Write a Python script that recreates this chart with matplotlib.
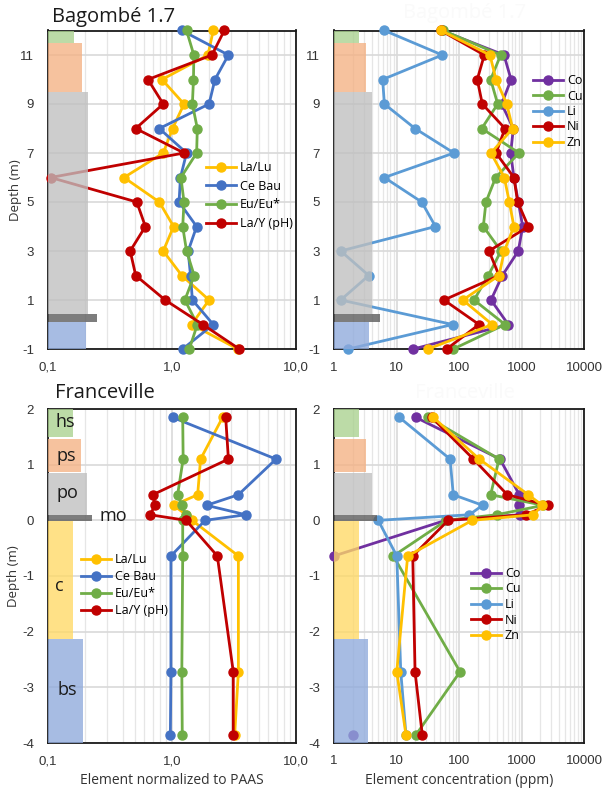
import matplotlib
matplotlib.use('Agg')
import matplotlib.pyplot as plt
import numpy as np
from matplotlib.ticker import FixedLocator, LogLocator, NullFormatter, FixedFormatter

# ---------------- data ----------------
bag_depth = [12, 11, 10, 9, 8, 7, 6, 5, 4, 3, 2, 1, 0, -1]
bag_lalu  = [2.15, 1.95, 0.83, 1.25, 1.01, 0.85, 0.41, 0.79, 1.03, 0.85, 1.2, 1.99, 1.44, 3.39]
bag_cebau = [1.2, 2.85, 2.22, 1.99, 0.79, 1.31, 1.17, 1.14, 1.58, 1.35, 1.41, 1.46, 2.15, 1.22]
bag_eueu  = [1.31, 1.5, 1.49, 1.46, 1.6, 1.58, 1.18, 1.25, 1.22, 1.31, 1.51, 1.27, 1.6, 1.38]
bag_lay   = [2.64, 2.1, 0.64, 0.85, 0.51, 1.25, 0.105, 0.52, 0.61, 0.46, 0.51, 0.88, 1.77, 3.49]

bag_co = [52.8, 525, 680, 482, 740, 671, 756, 889, 1045, 889, 493, 325, 615, 18.6]
bag_cu = [56, 464, 321, 416, 231, 912, 386, 270, 245, 470, 294, 174, 545, 81]
bag_li = [6.4, 54, 6.0, 6.4, 19.8, 83, 6.4, 25.3, 42, 1.28, 3.6, 1.28, 79, 1.7]
bag_ni = [51, 254, 196, 236, 545, 391, 756, 869, 1285, 302, 437, 57.5, 209, 63.5]
bag_zn = [51.5, 313, 391, 580, 723, 325, 531, 638, 756, 531, 437, 115, 341, 32]

fr_depth = [1.85, 1.1, 0.46, 0.27, 0.1, 0.0, -0.64, -2.72, -3.86]
fr_lalu  = [2.56, 1.70, 1.61, 1.03, 1.3, 1.45, 3.43, 3.43, 3.2]
fr_cebau = [1.01, 6.9, 3.43, 1.9, 3.93, 1.85, 0.98, 0.98, 0.97]
fr_eueu  = [1.22, 1.23, 1.11, 1.2, 1.29, 1.22, 1.22, 1.2, 1.21]
fr_lay   = [2.71, 2.85, 0.70, 0.73, 0.665, 1.3, 2.32, 3.12, 3.12]

fr_co = [20.3, 453, 923, 923, 940, 61, 1.0, np.nan, 2.0]
fr_cu = [32, 437, 321, 2234, 400, 63, 8.9, 104, 20.3]
fr_li = [11.1, 72, 81, 239, 146, 5.1, 10.1, 11.7, 14.2]
fr_ni = [36.6, 170, 593, 2627, 1180, 67, 18.2, 19.8, 25.9]
fr_zn = [38.8, 211, 1285, 2150, 1545, 163, 15.1, 10.1, 14.2]

ratio_labels = ['La/Lu', 'Ce Bau', 'Eu/Eu*', 'La/Y (pH)']
elem_labels = ['Co', 'Cu', 'Li', 'Ni', 'Zn']

# lithology columns
bag_lith_top    = [12.0, 11.47, 9.47, 0.43, 0.11]
bag_lith_bottom = [11.5, 9.5, 0.43, 0.11, -1.0]
bag_lith_wl     = [0.162, 0.188, 0.21, 0.248, 0.202]
bag_lith_wr     = [2.5, 3.25, 4.06, 5.4, 3.6]
bag_lith_col    = ['#a9d18e', '#f4b183', '#bfbfbf', '#595959', '#8faadc']

fr_lith_top    = [2.0, 1.47, 0.85, 0.095, -0.013, -2.14]
fr_lith_bottom = [1.49, 0.86, 0.095, -0.013, -2.13, -4.0]
fr_lith_wl     = [0.159, 0.185, 0.206, 0.226, 0.159, 0.19]
fr_lith_wr     = [2.5, 3.25, 4.0, 4.9, 2.5, 3.5]
fr_lith_col    = ['#a9d18e', '#f4b183', '#bfbfbf', '#595959', '#ffd966', '#8faadc']
fr_lith_names  = ['hs', 'ps', 'po', 'mo', 'c', 'bs']
fr_lith_name_y = [1.76, 1.16, 0.5, 0.07, -1.18, -3.04]
fr_lith_name_x = [0.115, 0.117, 0.117, 0.262, 0.113, 0.12]

ratio_colors = ['#ffc000', '#4472c4', '#70ad47', '#c00000']
elem_colors = ['#7030a0', '#70ad47', '#5b9bd5', '#c00000', '#ffc000']

TICKFONT = 'Liberation Sans'
TXTFONT = 'Open Sans'

fig = plt.figure(figsize=(6.05, 7.89), dpi=100)
W, H = 605.0, 789.0

def ax_at(x0, y0, x1, y1):
    return fig.add_axes([x0 / W, 1 - y1 / H, (x1 - x0) / W, (y1 - y0) / H])

ax_tl = ax_at(48, 30.5, 296, 349)
ax_tr = ax_at(334, 30.5, 584, 349)
ax_bl = ax_at(48, 409, 296, 743)
ax_br = ax_at(334, 409, 584, 743)

def style(ax, xlim, ylim, yticks, xtick_vals, xtick_labels):
    ax.set_xscale('log')
    ax.set_xlim(*xlim)
    ax.set_ylim(*ylim)
    ax.set_yticks(yticks)
    ax.set_yticklabels([str(t) for t in yticks])
    ax.xaxis.set_major_locator(FixedLocator(xtick_vals))
    ax.xaxis.set_major_formatter(FixedFormatter(xtick_labels))
    ax.xaxis.set_minor_locator(LogLocator(base=10, subs=np.arange(2, 10)))
    ax.xaxis.set_minor_formatter(NullFormatter())
    ax.grid(True, which='major', axis='both', color='#d9d9d9', lw=1.2, zorder=0)
    ax.grid(True, which='minor', axis='x', color='#e6e6e6', lw=0.9, zorder=0)
    ax.set_axisbelow(True)
    ax.tick_params(which='both', length=0)
    ax.tick_params(axis='y', pad=10, labelsize=9.5, labelcolor='#333333')
    ax.tick_params(axis='x', pad=9, labelsize=9.5, labelcolor='#333333')
    for lab in ax.get_xticklabels() + ax.get_yticklabels():
        lab.set_fontfamily(TICKFONT)
    for s in ax.spines.values():
        s.set_color('#1a1a1a')
        s.set_linewidth(1.3)

def lith(ax, tops, bots, widths, cols, xmin):
    for t, b, w, c in zip(tops, bots, widths, cols):
        ax.fill_betweenx([b, t], xmin, w, color=c, alpha=0.78, lw=0, zorder=5)

def series(ax, depth, values, labels, colors):
    for vals, lab, c in zip(values, labels, colors):
        v = np.array(vals, dtype=float)
        d = np.array(depth, dtype=float)
        ax.plot(v, d, '-o', color=c, lw=2.0, ms=6.5, label=lab, clip_on=False, zorder=3)

left_ticks = [0.1, 1, 10]
left_labels = ['0,1', '1,0', '10,0']
right_ticks = [1, 10, 100, 1000, 10000]
right_labels = ['1', '10', '100', '1000', '10000']

style(ax_tl, (0.1, 10), (-1, 12), [-1, 1, 3, 5, 7, 9, 11], left_ticks, left_labels)
style(ax_tr, (1, 10000), (-1, 12), [-1, 1, 3, 5, 7, 9, 11], right_ticks, right_labels)
style(ax_bl, (0.1, 10), (-4, 2), [-4, -3, -2, -1, 0, 1, 2], left_ticks, left_labels)
style(ax_br, (1, 10000), (-4, 2), [-4, -3, -2, -1, 0, 1, 2], right_ticks, right_labels)

lith(ax_tl, bag_lith_top, bag_lith_bottom, bag_lith_wl, bag_lith_col, 0.1)
lith(ax_tr, bag_lith_top, bag_lith_bottom, bag_lith_wr, bag_lith_col, 1)
lith(ax_bl, fr_lith_top, fr_lith_bottom, fr_lith_wl, fr_lith_col, 0.1)
lith(ax_br, fr_lith_top, fr_lith_bottom, fr_lith_wr, fr_lith_col, 1)

series(ax_tl, bag_depth, [bag_lalu, bag_cebau, bag_eueu, bag_lay], ratio_labels, ratio_colors)
series(ax_tr, bag_depth, [bag_co, bag_cu, bag_li, bag_ni, bag_zn], elem_labels, elem_colors)
series(ax_bl, fr_depth, [fr_lalu, fr_cebau, fr_eueu, fr_lay], ratio_labels, ratio_colors)
series(ax_br, fr_depth, [fr_co, fr_cu, fr_li, fr_ni, fr_zn], elem_labels, elem_colors)

for name, x, y in zip(fr_lith_names, fr_lith_name_x, fr_lith_name_y):
    ax_bl.text(x, y, name, fontsize=13, family=TXTFONT, color='#1a1a1a',
               ha='left', va='center', zorder=6)

leg_kw = dict(frameon=False, handlelength=2.4, handletextpad=0.3, borderaxespad=0,
              prop={'family': TXTFONT, 'size': 9})
l1 = ax_tl.legend(loc='upper left', bbox_to_anchor=(153 / 248, 1 - (156 - 30.5) / 318.5),
                  labelspacing=0.45, **leg_kw)
l2 = ax_tr.legend(loc='upper left', bbox_to_anchor=(194 / 250, 1 - (69 - 30.5) / 318.5),
                  labelspacing=0.2, **leg_kw)
l3 = ax_bl.legend(loc='upper left', bbox_to_anchor=(28 / 248, 1 - (548 - 409) / 334),
                  labelspacing=0.32, **leg_kw)
l4 = ax_br.legend(loc='upper left', bbox_to_anchor=(132 / 250, 1 - (562 - 409) / 334),
                  labelspacing=0.2, **leg_kw)
for l in (l1, l2, l3, l4):
    l.set_zorder(7)

# titles
fig.text(52 / W, 1 - 17 / H, 'Bagombé 1.7', fontsize=14.5, family=TXTFONT, color='#1a1a1a',
         ha='left', va='center')
fig.text(465 / W, 1 - 13 / H, 'Bagombé 1.7', fontsize=14.5, family=TXTFONT, color='#fafafa',
         ha='center', va='center')
fig.text(55 / W, 1 - 393 / H, 'Franceville', fontsize=14.5, family=TXTFONT, color='#1a1a1a',
         ha='left', va='center')
fig.text(465 / W, 1 - 393 / H, 'Franceville', fontsize=14.5, family=TXTFONT, color='#fafafa',
         ha='center', va='center')

# axis labels
fig.text(15 / W, 1 - 190 / H, 'Depth (m)', rotation=90, fontsize=9.5, family=TXTFONT,
         color='#333333', ha='center', va='center')
fig.text(13 / W, 1 - 576 / H, 'Depth (m)', rotation=90, fontsize=9.5, family=TXTFONT,
         color='#333333', ha='center', va='center')
fig.text(172 / W, 1 - 781 / H, 'Element normalized to PAAS', fontsize=10, family=TXTFONT,
         color='#333333', ha='center', va='center')
fig.text(459 / W, 1 - 781 / H, 'Element concentration (ppm)', fontsize=10, family=TXTFONT,
         color='#333333', ha='center', va='center')

fig.savefig('out.png', dpi=100)
